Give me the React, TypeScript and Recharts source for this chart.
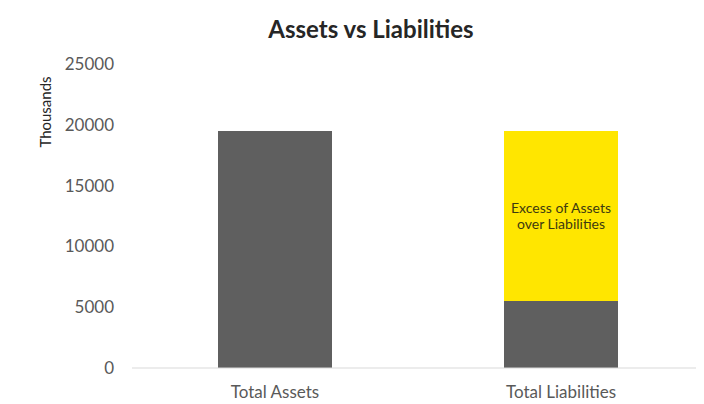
import { BarChart, Bar, XAxis, YAxis, LabelList } from 'recharts'

const categories = ['Total Assets', 'Total Liabilities']
const baseValues = [19500, 5500]
const excessValues = [0, 14000]
const yTicks = [0, 5000, 10000, 15000, 20000, 25000]
const excessLabel = ['Excess of Assets', 'over Liabilities']

const data = categories.map((name, i) => ({
  name,
  base: baseValues[i],
  excess: excessValues[i],
}))

const FONT = 'Lato, "Open Sans", sans-serif'

function ExcessLabel(props: any) {
  const { x, y, width, height, value } = props
  if (!value) return null
  const cx = x + width / 2
  const cy = y + height * 0.5
  return (
    <text x={cx} y={cy} textAnchor="middle" fill="#3d3a10" fontSize={14} fontFamily={FONT}>
      <tspan x={cx} dy={-3}>{excessLabel[0]}</tspan>
      <tspan x={cx} dy={16}>{excessLabel[1]}</tspan>
    </text>
  )
}

export default function App() {
  return (
    <div style={{ position: 'relative', width: 696, height: 396, background: '#fff', fontFamily: FONT }}>
      <div
        style={{
          position: 'absolute',
          left: 0,
          width: 726,
          top: 7,
          textAlign: 'center',
          fontSize: 24,
          lineHeight: 1.2,
          fontWeight: 700,
          color: '#262626',
        }}
      >
        Assets vs Liabilities
      </div>
      <BarChart width={696} height={396} data={data} margin={{ top: 56, right: 0, bottom: 0, left: 30 }}>
        <XAxis
          dataKey="name"
          height={36}
          tickLine={false}
          axisLine={{ stroke: '#d9d9d9' }}
          tick={{ fill: '#595959', fontSize: 17, fontFamily: FONT }}
          tickMargin={12}
        />
        <YAxis
          width={94}
          domain={[0, 25000]}
          ticks={yTicks}
          axisLine={false}
          tickLine={false}
          tickMargin={12}
          tick={{ fill: '#595959', fontSize: 17, fontFamily: FONT }}
          label={{
            value: 'Thousands',
            angle: -90,
            position: 'insideLeft',
            offset: 0,
            dx: 8,
            dy: -104,
            style: { fill: '#262626', fontSize: 15, fontFamily: FONT, textAnchor: 'middle' },
          }}
        />
        <Bar dataKey="base" stackId="a" fill="#5f5f5f" barSize={114} isAnimationActive={false} />
        <Bar dataKey="excess" stackId="a" fill="#ffe600" barSize={114} isAnimationActive={false}>
          <LabelList dataKey="excess" content={ExcessLabel} />
        </Bar>
      </BarChart>
    </div>
  )
}
